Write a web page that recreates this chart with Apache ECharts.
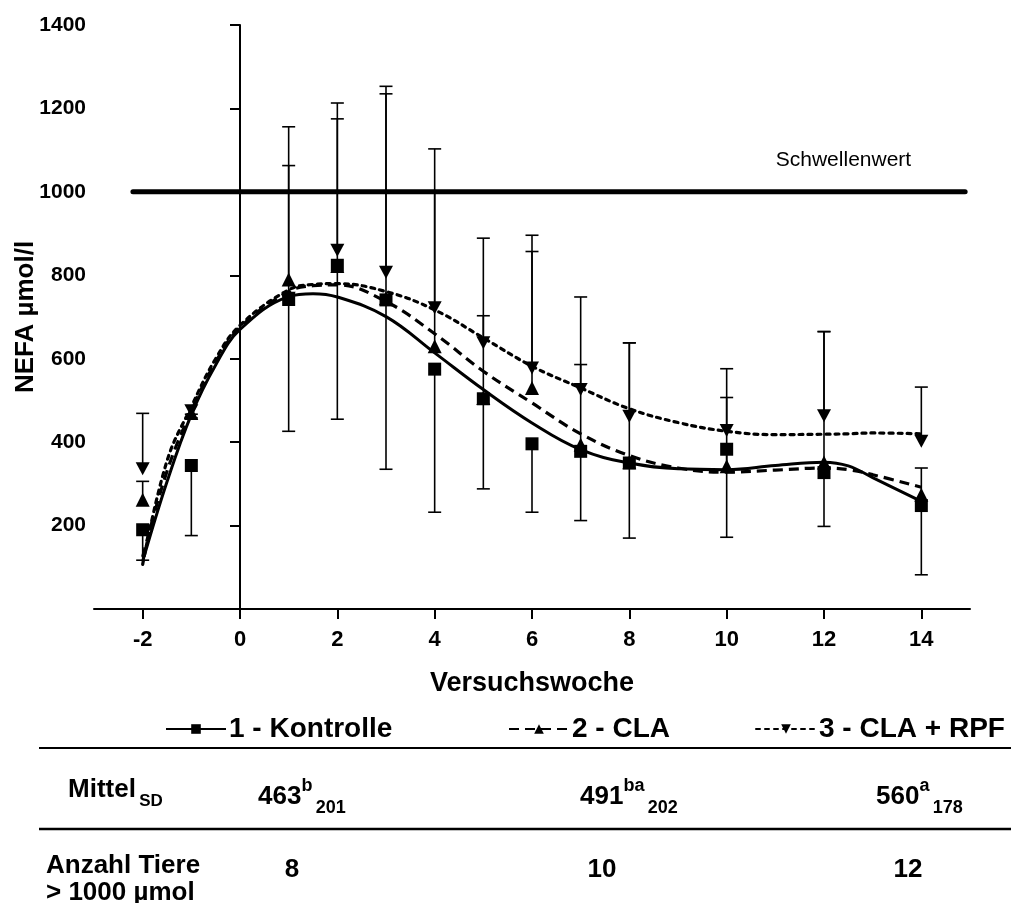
<!DOCTYPE html>
<html>
<head>
<meta charset="utf-8">
<script src="https://cdn.jsdelivr.net/npm/echarts@6/dist/echarts.min.js"></script>
<style>
html,body{margin:0;padding:0;background:#fff;}
#chart{width:1011px;height:903px;}
</style>
</head>
<body>
<div id="chart"></div>
<script>
// ---------- data ----------
const weeks = [-2, -1, 1, 2, 3, 4, 5, 6, 7, 8, 10, 12, 14];
const kontrolle    = [190, 344, 742, 824, 741, 575, 504, 396, 378, 350, 383, 327, 248];
const kontrolleLow = [117, 176, 426, 455, 335, 232, 288, 232, 212, 170, 172, 198, 82];
const cla          = [262, 470, 790, 822, 745, 630, 506, 530, 394, 352, 342, 351, 274];
const claHigh      = [306, 458, 1156, 1175, 1235, 1000, 703, 857, 586, 638, 507, 665, 338];
const rpf          = [336, 475, 745, 860, 807, 722, 638, 578, 526, 462, 428, 463, 402];
const rpfHigh      = [469, 467, 1063, 1213, 1253, 1103, 889, 896, 748, 638, 576, 665, 532];

// fitted trend curves
const trendX         = [-2, -1.5, -1, -0.5, 0, 1, 1.5, 2, 3, 4, 5, 6, 7, 8, 9, 10, 11, 12, 12.5, 13, 14];
const trendKontrolle = [114, 305, 466, 585, 670, 749, 756, 748, 701, 614, 526, 446, 382, 350, 336, 334, 344, 352, 343, 315, 258];
const trendCla       = [125, 330, 475, 592, 675, 761, 775, 777, 737, 660, 570, 494, 420, 368, 338, 328, 333, 338, 334, 322, 292];
const trendRpf       = [107, 355, 485, 600, 680, 765, 778, 780, 761, 717, 650, 582, 530, 480, 447, 426, 418, 419, 420, 422, 420];

const threshX = [-2.2, 14.9];
const threshY = [1000, 1000];
const threshLabel = ['Schwellenwert'];
const threshLabelPos = [[12.4, 1077]];

const xTicks = [-2, 0, 2, 4, 6, 8, 10, 12, 14];
const seriesNames = ['1 - Kontrolle', '2 - CLA', '3 - CLA + RPF'];

const tableRowLabels = ['Mittel', 'SD', 'Anzahl Tiere', '> 1000 µmol'];
const tableMeans = ['463', '491', '560'];
const tableSup   = ['b', 'ba', 'a'];
const tableSd    = ['201', '202', '178'];
const tableCount = ['8', '10', '12'];

// ---------- chart ----------
const FONT = '"Liberation Sans", Arial, sans-serif';
const chart = echarts.init(document.getElementById('chart'), null, {renderer: 'canvas'});
const pair = (xs, ys) => xs.map((x, i) => [x, ys[i]]);
const triDown = 'path://M0,0 L10,0 L5,9 Z';

function errRender(params, api) {
  const x = api.value(0), v = api.value(1), c = api.value(2);
  const p1 = api.coord([x, v]);
  const p2 = api.coord([x, c]);
  const st = {stroke: '#000', lineWidth: 1.6};
  return {
    type: 'group',
    children: [
      {type: 'line', shape: {x1: p1[0], y1: p1[1], x2: p2[0], y2: p2[1]}, style: st},
      {type: 'line', shape: {x1: p2[0] - 6.5, y1: p2[1], x2: p2[0] + 6.5, y2: p2[1]}, style: st}
    ]
  };
}
const errData = (vals, caps) => weeks.map((w, i) => [w, vals[i], caps[i]]);

const colX = [258, 580, 876];
const countX = [292, 602, 908];

const graphics = [
  {type: 'line', shape: {x1: 39, y1: 748, x2: 1011, y2: 748}, style: {stroke: '#000', lineWidth: 2}},
  {type: 'line', shape: {x1: 39, y1: 829, x2: 1011, y2: 829}, style: {stroke: '#000', lineWidth: 2.5}},
  {type: 'text', left: 68, top: 777, style: {
    rich: {
      a: {fontFamily: FONT, fontWeight: 'bold', fontSize: 26, fill: '#000', lineHeight: 40},
      s: {fontFamily: FONT, fontWeight: 'bold', fontSize: 17, fill: '#000', verticalAlign: 'bottom', lineHeight: 40}
    },
    text: '{a|' + tableRowLabels[0] + '} {s|' + tableRowLabels[1] + '}'
  }},
  {type: 'text', left: 46, top: 852, style: {
    text: tableRowLabels[2] + '\n' + tableRowLabels[3],
    fontFamily: FONT, fontWeight: 'bold', fontSize: 26, lineHeight: 27, fill: '#000'
  }}
];
tableMeans.forEach((m, i) => {
  graphics.push({type: 'text', left: colX[i], top: 777, style: {
    rich: {
      a: {fontFamily: FONT, fontWeight: 'bold', fontSize: 26, fill: '#000', lineHeight: 40},
      p: {fontFamily: FONT, fontWeight: 'bold', fontSize: 18, fill: '#000', verticalAlign: 'top', lineHeight: 40},
      s: {fontFamily: FONT, fontWeight: 'bold', fontSize: 18, fill: '#000', verticalAlign: 'bottom', lineHeight: 40}
    },
    text: '{a|' + m + '}{p|' + tableSup[i] + '} {s|' + tableSd[i] + '}'
  }});
  graphics.push({type: 'text', x: countX[i], y: 870, style: {
    text: tableCount[i], fontFamily: FONT, fontWeight: 'bold', fontSize: 26, fill: '#000',
    align: 'center', verticalAlign: 'middle'
  }});
});

const legendBase = {
  top: 710, itemWidth: 60, itemHeight: 12, itemGap: 0,
  textStyle: {fontFamily: FONT, fontWeight: 'bold', fontSize: 28, color: '#000', padding: [0, 0, 0, -2]},
  selectedMode: false
};

const option = {
  animation: false,
  backgroundColor: '#fff',
  grid: {left: 94, right: 41, top: 25, bottom: 294, outerBoundsMode: 'none', containLabel: false},
  legend: [
    Object.assign({}, legendBase, {left: 160, data: [seriesNames[0]]}),
    Object.assign({}, legendBase, {left: 503, data: [seriesNames[1]]}),
    Object.assign({}, legendBase, {left: 750, data: [seriesNames[2]]})
  ],
  xAxis: {
    type: 'value', min: -3, max: 15,
    name: 'Versuchswoche', nameLocation: 'middle', nameGap: 61,
    nameTextStyle: {fontFamily: FONT, fontWeight: 'bold', fontSize: 27, color: '#000'},
    axisLine: {show: true, lineStyle: {color: '#000', width: 2}},
    axisTick: {show: true, length: 10, customValues: xTicks, lineStyle: {color: '#000', width: 2}},
    axisLabel: {customValues: xTicks, margin: 20, fontFamily: FONT, fontWeight: 'bold', fontSize: 22, color: '#000'},
    splitLine: {show: false}
  },
  yAxis: [
    {
      type: 'value', min: 0, max: 1400, interval: 200,
      axisLine: {show: true, onZero: true, lineStyle: {color: '#000', width: 2}},
      axisTick: {show: true, length: 10, lineStyle: {color: '#000', width: 2}},
      axisLabel: {show: false},
      splitLine: {show: false}
    },
    {
      type: 'value', min: 0, max: 1400, interval: 200, position: 'left',
      name: 'NEFA µmol/l', nameLocation: 'middle', nameGap: 55, nameRotate: 90, nameMoveOverlap: false,
      nameTextStyle: {fontFamily: FONT, fontWeight: 'bold', fontSize: 26, color: '#000'},
      axisLine: {show: false, onZero: false},
      axisTick: {show: false},
      axisLabel: {margin: 8, fontFamily: FONT, fontWeight: 'bold', fontSize: 21, color: '#000',
        formatter: v => (v === 0 ? '' : String(v))},
      splitLine: {show: false}
    }
  ],
  graphic: graphics,
  series: [
    {
      name: 'Schwellenwert', type: 'line', data: pair(threshX, threshY), symbol: 'none',
      lineStyle: {color: '#000', width: 5, cap: 'round'}, z: 3, silent: true
    },
    {
      name: 'label', type: 'scatter', data: threshLabelPos, symbolSize: 0, silent: true,
      itemStyle: {opacity: 1},
      label: {show: true, position: 'inside', formatter: () => threshLabel[0],
        fontFamily: FONT, fontSize: 21, color: '#000', opacity: 1}
    },
    {
      name: seriesNames[0], type: 'line', data: pair(trendX, trendKontrolle), smooth: 0.4,
      symbol: 'rect', symbolSize: 11, showSymbol: false, itemStyle: {color: '#000'},
      lineStyle: {color: '#000', width: 3}, z: 4
    },
    {
      name: seriesNames[1], type: 'line', data: pair(trendX, trendCla), smooth: 0.4,
      symbol: 'triangle', symbolSize: 11, showSymbol: false, itemStyle: {color: '#000'},
      lineStyle: {color: '#000', width: 3.2, type: [10, 6]}, z: 4
    },
    {
      name: seriesNames[2], type: 'line', data: pair(trendX, trendRpf), smooth: 0.4,
      symbol: triDown, symbolSize: 11, showSymbol: false, itemStyle: {color: '#000'},
      lineStyle: {color: '#000', width: 3.2, type: [4, 5], cap: 'round'}, z: 4
    },
    {type: 'custom', name: 'errK', renderItem: errRender, data: errData(kontrolle, kontrolleLow), z: 5, silent: true},
    {type: 'custom', name: 'errC', renderItem: errRender, data: errData(cla, claHigh), z: 5, silent: true},
    {type: 'custom', name: 'errR', renderItem: errRender, data: errData(rpf, rpfHigh), z: 5, silent: true},
    {type: 'scatter', name: 'mC', data: pair(weeks, cla), symbol: 'triangle', symbolSize: 14, itemStyle: {color: '#000', opacity: 1}, z: 6},
    {type: 'scatter', name: 'mR', data: pair(weeks, rpf), symbol: triDown, symbolSize: [14, 13], itemStyle: {color: '#000', opacity: 1}, z: 6},
    {type: 'scatter', name: 'mK', data: pair(weeks, kontrolle), symbol: 'rect', symbolSize: 13, itemStyle: {color: '#000', opacity: 1}, z: 7}
  ]
};
chart.setOption(option);
</script>
</body>
</html>
